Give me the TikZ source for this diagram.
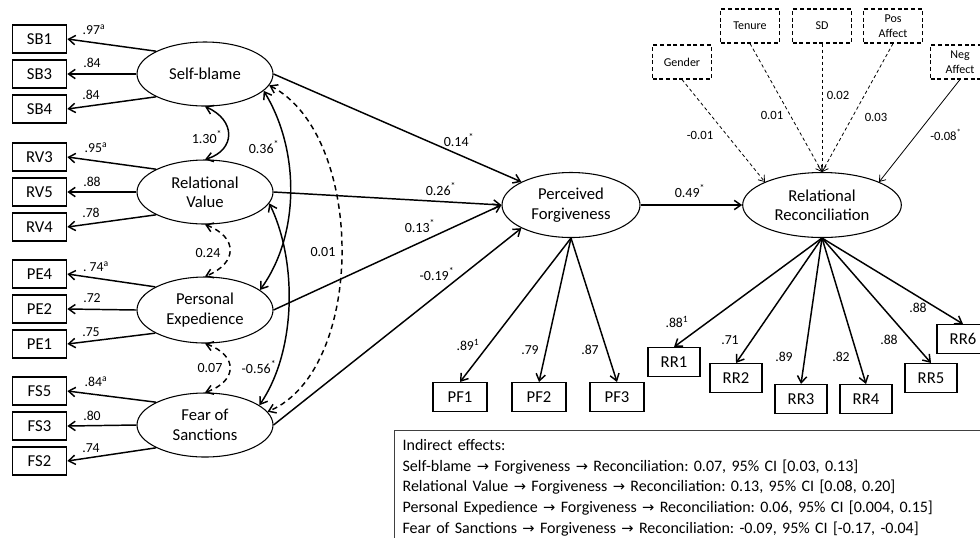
\documentclass[tikz,border=0pt]{standalone}
\usepackage{fontspec}
\setmainfont{Carlito}
\newfontfamily\arrowfont{DejaVu Sans}
\usetikzlibrary{shapes.geometric, arrows.meta}
\newcommand{\via}{{\arrowfont\fontsize{11}{11}\selectfont →}}
\frenchspacing

\begin{document}
\begin{tikzpicture}[x=0.75pt, y=-0.75pt, >={Straight Barb[length=5pt,width=7pt]},
    latent/.style={ellipse, draw, line width=0.8pt, minimum width=102pt, minimum height=48pt, inner sep=0pt, align=center, font=\fontsize{12.5}{14.5}\selectfont},
    indic/.style={rectangle, draw, line width=0.8pt, minimum width=41pt, minimum height=21pt, inner sep=0pt, font=\fontsize{12.5}{14.5}\selectfont},
    control/.style={rectangle, draw, line width=0.8pt, dash pattern=on 3pt off 2pt, minimum width=44pt, minimum height=25.5pt, inner sep=0pt, align=center, font=\fontsize{9}{11}\selectfont},
    effect/.style={line width=1.1pt, ->},
    corr/.style={line width=1.1pt, <->},
    ctrleffect/.style={line width=0.6pt, ->, >={Straight Barb[length=4pt,width=6pt]}},
    coeflabel/.style={inner sep=0pt, font=\fontsize{10.5}{12}\selectfont},
    loadlabel/.style={inner sep=0pt, font=\fontsize{10.3}{12}\selectfont},
    ctrllabel/.style={inner sep=0pt, font=\fontsize{9.5}{11}\selectfont}]
            \useasboundingbox (0,0) rectangle (980,537);
            \node[latent] (sb) at (205,74) {Self-blame};
            \node[latent] (rv) at (205,192) {Relational\\Value};
            \node[latent, minimum height=49.5pt] (pe) at (205,310) {Personal\\Expedience};
            \node[latent] (fs) at (205,425) {Fear of\\Sanctions};
            \node[latent, minimum width=103.5pt, minimum height=48.75pt] (pf) at (571,205) {Perceived\\Forgiveness};
            \node[latent, minimum width=119pt, minimum height=48.75pt] (rr) at (822,205) {Relational\\Reconciliation};

            \node[indic] (sb1) at (39.5,39) {SB1};
            \node[indic] (sb3) at (39.5,74) {SB3};
            \node[indic] (sb4) at (39.5,109) {SB4};
            \node[indic] (rv3) at (39.5,157) {RV3};
            \node[indic] (rv5) at (39.5,192) {RV5};
            \node[indic] (rv4) at (39.5,227) {RV4};
            \node[indic] (pe4) at (39.5,274) {PE4};
            \node[indic] (pe2) at (39.5,309) {PE2};
            \node[indic] (pe1) at (39.5,344) {PE1};
            \node[indic] (fs5) at (39.5,391) {FS5};
            \node[indic] (fs3) at (39.5,426) {FS3};
            \node[indic] (fs2) at (39.5,461) {FS2};
            \node[indic, minimum width=40.5pt, minimum height=21.75pt] (pf1) at (460,397) {PF1};
            \node[indic, minimum width=40.5pt, minimum height=21.75pt] (pf2) at (539,397) {PF2};
            \node[indic, minimum width=40.5pt, minimum height=21.75pt] (pf3) at (617,397) {PF3};
            \node[indic, minimum width=39pt, minimum height=21.75pt] (rr1) at (674,362) {RR1};
            \node[indic, minimum width=39pt, minimum height=21.75pt] (rr2) at (736,378) {RR2};
            \node[indic, minimum width=39pt, minimum height=21.75pt] (rr3) at (801,399) {RR3};
            \node[indic, minimum width=39pt, minimum height=21.75pt] (rr4) at (866,399) {RR4};
            \node[indic, minimum width=39pt, minimum height=21.75pt] (rr5) at (931,378) {RR5};
            \node[indic, minimum width=39pt, minimum height=21.75pt] (rr6) at (963,339) {RR6};

            \node[control] (gender) at (682,62) {Gender};
            \node[control] (tenure) at (750,26) {Tenure};
            \node[control] (sd) at (822,26) {SD};
            \node[control] (pos) at (893,26) {Pos\\Affect};
            \node[control] (neg) at (960,62) {Neg\\Affect};

            \draw[effect] (sb.155) -- (sb1.east);
            \draw[effect] (sb.west) -- (sb3.east);
            \draw[effect] (sb.205) -- (sb4.east);
            \draw[effect] (rv.155) -- (rv3.east);
            \draw[effect] (rv.west) -- (rv5.east);
            \draw[effect] (rv.205) -- (rv4.east);
            \draw[effect] (pe.155) -- (pe4.east);
            \draw[effect] (pe.west) -- (pe2.east);
            \draw[effect] (pe.205) -- (pe1.east);
            \draw[effect] (fs.155) -- (fs5.east);
            \draw[effect] (fs.west) -- (fs3.east);
            \draw[effect] (fs.205) -- (fs2.east);
            \node[loadlabel] (l-sb1) at (94,30) {.97\textsuperscript{a}};
            \node[loadlabel] (l-sb3) at (92,63) {.84};
            \node[loadlabel] (l-sb4) at (91,95) {.84};
            \node[loadlabel] (l-rv3) at (96,148) {.95\textsuperscript{a}};
            \node[loadlabel] (l-rv5) at (92,182) {.88};
            \node[loadlabel] (l-rv4) at (91,213) {.78};
            \node[loadlabel] (l-pe4) at (96,267) {.\ 74\textsuperscript{a}};
            \node[loadlabel] (l-pe2) at (92,298) {.72};
            \node[loadlabel] (l-pe1) at (91,332) {.75};
            \node[loadlabel] (l-fs5) at (96,382) {.84\textsuperscript{a}};
            \node[loadlabel] (l-fs3) at (92,416) {.80};
            \node[loadlabel] (l-fs2) at (91,448) {.74};

            \draw[corr] (sb.south) .. controls (236,120) and (236,150) .. (rv.north);
            \draw[corr, dash pattern=on 4pt off 3pt] (rv.south) .. controls (238,237) and (238,263) .. (pe.north);
            \draw[corr, dash pattern=on 4pt off 3pt] (pe.south) .. controls (238,355) and (238,381) .. (fs.north);
            \draw[corr] (sb.-16) .. controls (300,150) and (300,235) .. (pe.20);
            \draw[corr] (rv.-10) .. controls (297,260) and (297,350) .. (fs.20);
            \draw[corr, dash pattern=on 4pt off 3pt] (sb.-10) .. controls (366,135) and (366,370) .. (fs.12);
            \node[coeflabel] (c-sbrv) at (207,137) {1.30\textsuperscript{*}};
            \node[coeflabel] (c-rvpe) at (208,253) {0.24};
            \node[coeflabel] (c-pefs) at (210,368) {0.07};
            \node[coeflabel] (c-sbpe) at (264,147) {0.36\textsuperscript{*}};
            \node[coeflabel] (c-rvfs) at (259,367) {-0.56\textsuperscript{*}};
            \node[coeflabel] (c-sbfs) at (323,252) {0.01};

            \draw[effect] (sb.east) -- (pf.155);
            \draw[effect] (rv.east) -- (pf.west);
            \draw[effect] (pe.east) -- (pf.west);
            \draw[effect] (fs.east) -- (pf.205);
            \draw[effect] (pf.east) -- (rr.west);
            \node[coeflabel] (c-sbpf) at (459,140) {0.14\textsuperscript{*}};
            \node[coeflabel] (c-rvpf) at (441,189) {0.26\textsuperscript{*}};
            \node[coeflabel] (c-pepf) at (420,226) {0.13\textsuperscript{*}};
            \node[coeflabel] (c-fspf) at (437,274) {-0.19\textsuperscript{*}};
            \node[coeflabel] (c-pfrr) at (690,191) {0.49\textsuperscript{*}};

            \draw[effect] (pf.south) -- (pf1.north);
            \draw[effect] (pf.south) -- (pf2.north);
            \draw[effect] (pf.south) -- (pf3.north);
            \node[loadlabel] (l-pf1) at (468,345) {.89\textsuperscript{1}};
            \node[loadlabel] (l-pf2) at (530,350) {.79};
            \node[loadlabel] (l-pf3) at (590,350) {.87};

            \draw[effect] (rr.south) -- (rr1.north);
            \draw[effect] (rr.south) -- (rr2.north);
            \draw[effect] (rr.south) -- (rr3.north);
            \draw[effect] (rr.south) -- (rr4.north);
            \draw[effect] (rr.south) -- (rr5.north);
            \draw[effect] (rr.south) -- (rr6.north);
            \node[loadlabel] (l-rr1) at (677,322) {.88\textsuperscript{1}};
            \node[loadlabel] (l-rr2) at (730,340) {.71};
            \node[loadlabel] (l-rr3) at (784,357) {.89};
            \node[loadlabel] (l-rr4) at (841,357) {.82};
            \node[loadlabel] (l-rr5) at (889,340) {.88};
            \node[loadlabel] (l-rr6) at (918,308) {.88};

            \draw[ctrleffect, dash pattern=on 2.5pt off 2pt] (gender.south) -- (rr.158);
            \draw[ctrleffect, dash pattern=on 2.5pt off 2pt] (tenure.south) -- (rr.north);
            \draw[ctrleffect, dash pattern=on 2.5pt off 2pt] (sd.south) -- (rr.north);
            \draw[ctrleffect, dash pattern=on 2.5pt off 2pt] (pos.south) -- (rr.north);
            \draw[ctrleffect] (neg.south) -- (rr.22);
            \node[ctrllabel] (c-gender) at (700,135) {-0.01};
            \node[ctrllabel] (c-tenure) at (772,115) {0.01};
            \node[ctrllabel] (c-sd) at (838,95) {0.02};
            \node[ctrllabel] (c-pos) at (876,117) {0.03};
            \node[ctrllabel] (c-neg) at (946,135) {-0.08\textsuperscript{*}};

            \node[draw=black!75, line width=0.9pt, anchor=north west, align=left, text width=450pt, inner xsep=6pt, inner ysep=6.5pt, font=\fontsize{12}{15.5}\selectfont] (indirect) at (394,430) {Indirect effects:\\
            Self-blame \via{} Forgiveness \via{} Reconciliation: 0.07, 95\% CI [0.03, 0.13]\\
            Relational Value \via{} Forgiveness \via{} Reconciliation: 0.13, 95\% CI [0.08, 0.20]\\
            Personal Expedience \via{} Forgiveness \via{} Reconciliation: 0.06, 95\% CI [0.004, 0.15]\\
            Fear of Sanctions \via{} Forgiveness \via{} Reconciliation: -0.09, 95\% CI [-0.17, -0.04]};
        \end{tikzpicture}
\end{document}
